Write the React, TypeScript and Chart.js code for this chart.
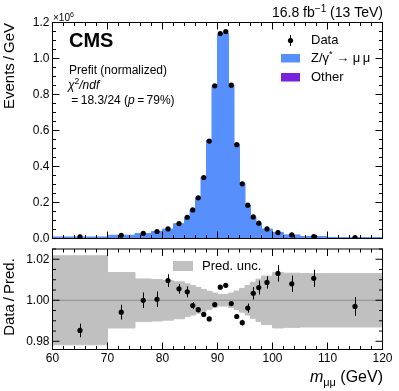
import React, { useEffect, useRef } from "react";
import { Chart, registerables } from "chart.js";

Chart.register(...registerables);

// ---------------- data ----------------
const binEdges = [60, 70, 75, 78, 80, 82, 84, 85, 86, 87, 88, 89, 90, 91, 92, 93, 94, 95, 96, 97, 98, 100, 102, 105, 110, 120];
const binCenters = [65, 72.5, 76.5, 79, 81, 83, 84.5, 85.5, 86.5, 87.5, 88.5, 89.5, 90.5, 91.5, 92.5, 93.5, 94.5, 95.5, 96.5, 97.5, 99, 101, 103.5, 107.5, 115];
// Events / GeV in units of 10^6
const dataValues = [0.0085, 0.018, 0.028, 0.039, 0.053, 0.083, 0.118, 0.159, 0.226, 0.339, 0.541, 0.848, 1.139, 1.15, 0.852, 0.521, 0.304, 0.185, 0.12, 0.085, 0.053, 0.033, 0.02, 0.011, 0.0056];
const zValues = [0.0082, 0.0177, 0.0276, 0.0386, 0.0521, 0.0821, 0.1171, 0.159, 0.2266, 0.341, 0.5456, 0.8494, 1.1313, 1.1413, 0.853, 0.5248, 0.307, 0.1853, 0.1192, 0.0841, 0.0521, 0.0322, 0.0194, 0.0105, 0.0052];
const otherValues = [0.0004, 0.0004, 0.0004, 0.0004, 0.0004, 0.0004, 0.0004, 0.0004, 0.0004, 0.0004, 0.0004, 0.0004, 0.0004, 0.0004, 0.0004, 0.0004, 0.0004, 0.0004, 0.0004, 0.0004, 0.0004, 0.0004, 0.0004, 0.0004, 0.0004];
const ratioValues = [0.9853, 0.9942, 1.0, 1.0005, 1.0096, 1.0056, 1.0041, 0.9974, 0.9954, 0.9931, 0.9909, 0.9979, 1.0064, 1.0073, 0.9984, 0.9921, 0.9891, 0.9962, 1.0034, 1.0062, 1.0087, 1.0131, 1.008, 1.0107, 0.997];
const ratioErrors = [0.0033, 0.0036, 0.0038, 0.0038, 0.0031, 0.0024, 0.0027, 0.0017, 0.0013, 0.0012, 0.0011, 0.001, 0.001, 0.001, 0.001, 0.0012, 0.0014, 0.0022, 0.003, 0.0034, 0.003, 0.004, 0.004, 0.0042, 0.0046];
const uncValues = [0.0217, 0.0135, 0.0104, 0.0101, 0.0097, 0.009, 0.008, 0.0072, 0.0063, 0.0053, 0.0044, 0.0035, 0.0028, 0.0028, 0.0035, 0.0045, 0.0058, 0.0072, 0.0088, 0.0103, 0.0118, 0.0135, 0.0132, 0.013, 0.013];

const xTickLabels = [60, 70, 80, 90, 100, 110, 120];
const yTickLabelsMain = [0, 0.2, 0.4, 0.6, 0.8, 1.0, 1.2];
const yTickLabelsRatio = [0.98, 1.0, 1.02];

// ---------------- style ----------------
const FONT = "'Liberation Sans', Arial, Helvetica, sans-serif";
const BLUE = "#5790fc";
const PURPLE = "#7a21dd";
const GRAY = "#c0c0c0";
const W = 399;
const TOP_H = 245;
const BOT_H = 146;

type Seg = { t: string; size: number; italic?: boolean; bold?: boolean; dy?: number };

function fontOf(s: Seg) {
  return `${s.italic ? "italic " : ""}${s.bold ? "bold " : ""}${s.size}px ${FONT}`;
}

function drawRich(ctx: CanvasRenderingContext2D, segs: Seg[], x: number, y: number, align: "left" | "right" = "left", baseline: CanvasTextBaseline = "alphabetic") {
  ctx.save();
  ctx.fillStyle = "#000";
  ctx.textAlign = "left";
  ctx.textBaseline = baseline;
  const widths = segs.map((s) => {
    ctx.font = fontOf(s);
    return ctx.measureText(s.t).width;
  });
  const total = widths.reduce((a, b) => a + b, 0);
  let cx = align === "right" ? x - total : x;
  segs.forEach((s, i) => {
    ctx.font = fontOf(s);
    ctx.fillText(s.t, cx, y + (s.dy || 0));
    cx += widths[i];
  });
  ctx.restore();
}

function stepPoints(values: number[], offset: number[] | null = null) {
  const pts = binEdges.slice(0, -1).map((e, i) => ({ x: e, y: values[i] + (offset ? offset[i] : 0) }));
  const n = values.length - 1;
  pts.push({ x: binEdges[binEdges.length - 1], y: values[n] + (offset ? offset[n] : 0) });
  return pts;
}

function drawFrameAndTicks(chart: any, yMajor: number[], yMinorStep: number, yMin: number, yMax: number) {
  const ctx: CanvasRenderingContext2D = chart.ctx;
  const { left, right, top, bottom } = chart.chartArea;
  const xs = chart.scales.x;
  const ys = chart.scales.y;
  ctx.save();
  ctx.strokeStyle = "#000";
  ctx.lineWidth = 1;
  ctx.beginPath();
  for (let v = 60; v <= 120.001; v += 2) {
    const px = xs.getPixelForValue(v);
    const len = xTickLabels.includes(Math.round(v)) ? 7 : 3.5;
    ctx.moveTo(px, bottom);
    ctx.lineTo(px, bottom - len);
    ctx.moveTo(px, top);
    ctx.lineTo(px, top + len);
  }
  const nMin = Math.round((yMax - yMin) / yMinorStep);
  const start = Math.ceil(yMin / yMinorStep - 1e-6) * yMinorStep;
  for (let k = 0; k <= nMin + 1; k++) {
    const v = start + k * yMinorStep;
    if (v > yMax + 1e-9) break;
    const py = ys.getPixelForValue(v);
    const isMajor = yMajor.some((m) => Math.abs(m - v) < 1e-6);
    const len = isMajor ? 7 : 3.5;
    ctx.moveTo(left, py);
    ctx.lineTo(left + len, py);
    ctx.moveTo(right, py);
    ctx.lineTo(right - len, py);
  }
  ctx.stroke();
  ctx.strokeRect(left, top, right - left, bottom - top);
  ctx.restore();
}

function drawYLabels(chart: any, labels: number[], digits: number) {
  const ctx: CanvasRenderingContext2D = chart.ctx;
  const ys = chart.scales.y;
  const { left } = chart.chartArea;
  ctx.save();
  ctx.fillStyle = "#000";
  ctx.font = `12px ${FONT}`;
  ctx.textAlign = "right";
  ctx.textBaseline = "middle";
  labels.forEach((v) => {
    ctx.fillText(v.toFixed(digits), left - 3, ys.getPixelForValue(v));
  });
  ctx.restore();
}

function drawRotated(ctx: CanvasRenderingContext2D, text: string, x: number, y: number, align: CanvasTextAlign, size: number) {
  ctx.save();
  ctx.translate(x, y);
  ctx.rotate(-Math.PI / 2);
  ctx.fillStyle = "#000";
  ctx.font = `${size}px ${FONT}`;
  ctx.textAlign = align;
  ctx.textBaseline = "middle";
  ctx.fillText(text, 0, 0);
  ctx.restore();
}

const mainPlugin = {
  id: "mainDecor",
  afterDraw(chart: any) {
    const ctx: CanvasRenderingContext2D = chart.ctx;
    drawFrameAndTicks(chart, yTickLabelsMain, 0.05, 0, 1.2);
    drawYLabels(chart, yTickLabelsMain, 1);
    drawRotated(ctx, "Events\u2009/\u2009GeV", 10, 23, "right", 15);
    drawRich(ctx, [{ t: "\u00d710", size: 10 }, { t: "6", size: 7, dy: -4 }], 53, 21);
    drawRich(ctx, [{ t: "16.8 fb", size: 14 }, { t: "\u22121", size: 10, dy: -5 }, { t: " (13 TeV)", size: 14 }], 383, 17, "right");
    drawRich(ctx, [{ t: "CMS", size: 20, bold: true }], 69, 47);
    drawRich(ctx, [{ t: "Prefit (normalized)", size: 12 }], 69, 74);
    drawRich(ctx, [{ t: "\u03c7", size: 12, italic: true }, { t: "2", size: 8.5, dy: -5 }, { t: "/ndf", size: 12, italic: true }], 68, 89);
    drawRich(ctx, [{ t: " =\u200918.3/24 (", size: 12 }, { t: "p", size: 12, italic: true }, { t: "\u2009=\u200979%)", size: 12 }], 68, 104);
    ctx.save();
    ctx.fillStyle = "#000";
    ctx.strokeStyle = "#000";
    ctx.lineWidth = 1;
    ctx.beginPath();
    ctx.moveTo(290.5, 35);
    ctx.lineTo(290.5, 46);
    ctx.stroke();
    ctx.beginPath();
    ctx.arc(290.5, 40.5, 2.6, 0, Math.PI * 2);
    ctx.fill();
    ctx.fillStyle = BLUE;
    ctx.fillRect(281, 54, 19, 8.5);
    ctx.fillStyle = PURPLE;
    ctx.fillRect(281, 73, 19, 8.5);
    ctx.restore();
    drawRich(ctx, [{ t: "Data", size: 13 }], 311, 40.5, "left", "middle");
    drawRich(ctx, [{ t: "Z/\u03b3", size: 13 }, { t: "*", size: 9, dy: -4 }, { t: " \u2192 \u03bc\u2009\u03bc", size: 13 }], 311, 58.5, "left", "middle");
    drawRich(ctx, [{ t: "Other", size: 13 }], 311, 77.5, "left", "middle");
  },
};

const ratioPlugin = {
  id: "ratioDecor",
  beforeDatasetDraw(chart: any, args: any) {
    if (args.index !== 2) return;
    const ctx: CanvasRenderingContext2D = chart.ctx;
    const xs = chart.scales.x;
    const ys = chart.scales.y;
    const { left, right } = chart.chartArea;
    ctx.save();
    ctx.strokeStyle = "#8c8c8c";
    ctx.lineWidth = 1;
    ctx.beginPath();
    const y1 = ys.getPixelForValue(1.0);
    ctx.moveTo(left, y1);
    ctx.lineTo(right, y1);
    ctx.stroke();
    ctx.strokeStyle = "#000";
    ctx.beginPath();
    binCenters.forEach((c, i) => {
      const px = Math.round(xs.getPixelForValue(c)) + 0.5;
      ctx.moveTo(px, ys.getPixelForValue(ratioValues[i] - ratioErrors[i]));
      ctx.lineTo(px, ys.getPixelForValue(ratioValues[i] + ratioErrors[i]));
    });
    ctx.stroke();
    ctx.restore();
  },
  afterDraw(chart: any) {
    const ctx: CanvasRenderingContext2D = chart.ctx;
    drawFrameAndTicks(chart, yTickLabelsRatio, 0.005, 0.976, 1.025);
    drawYLabels(chart, yTickLabelsRatio, 2);
    drawRotated(ctx, "Data\u2009/\u2009Pred.", 10, 52, "center", 15);
    const xs = chart.scales.x;
    ctx.save();
    ctx.fillStyle = "#000";
    ctx.font = `12px ${FONT}`;
    ctx.textAlign = "center";
    ctx.textBaseline = "middle";
    xTickLabels.forEach((v) => ctx.fillText(String(v), xs.getPixelForValue(v), 114));
    ctx.fillStyle = GRAY;
    ctx.fillRect(173, 16, 20, 10);
    ctx.restore();
    drawRich(ctx, [{ t: "Pred. unc.", size: 13 }], 202, 21, "left", "middle");
    drawRich(ctx, [{ t: "m", size: 16, italic: true }, { t: "\u03bc\u03bc", size: 11, dy: 4 }, { t: " (GeV)", size: 16 }], 383, 137, "right");
  },
};

export default function App() {
  const topRef = useRef<HTMLCanvasElement>(null);
  const botRef = useRef<HTMLCanvasElement>(null);

  useEffect(() => {
    document.body.style.margin = "0";
    const common = {
      animation: false as const,
      responsive: false,
      events: [] as any[],
      plugins: { legend: { display: false }, tooltip: { enabled: false } },
    };

    const top = new Chart(topRef.current as HTMLCanvasElement, {
      type: "line",
      data: {
        datasets: [
          {
            label: "Z/\u03b3* \u2192 \u03bc\u03bc",
            data: stepPoints(zValues, otherValues),
            stepped: true,
            fill: "origin",
            backgroundColor: BLUE,
            borderColor: BLUE,
            borderWidth: 1,
            pointRadius: 0,
            order: 3,
          },
          {
            label: "Other",
            data: stepPoints(otherValues),
            stepped: true,
            fill: "origin",
            backgroundColor: PURPLE,
            borderColor: "rgba(0,0,0,0)",
            borderWidth: 0,
            pointRadius: 0,
            order: 2,
          },
          {
            label: "Data",
            data: binCenters.map((c, i) => ({ x: c, y: dataValues[i] })),
            showLine: false,
            pointRadius: 2.6,
            pointBackgroundColor: "#000",
            pointBorderWidth: 0,
            borderColor: "#000",
            order: 0,
          },
        ],
      },
      options: {
        ...common,
        layout: { padding: { left: 52.5, right: 16.5, top: 22.5, bottom: TOP_H - 238.5 } },
        scales: {
          x: { type: "linear", min: 60, max: 120, display: false },
          y: { type: "linear", min: 0, max: 1.2, display: false },
        },
      } as any,
      plugins: [mainPlugin],
    });

    const bot = new Chart(botRef.current as HTMLCanvasElement, {
      type: "line",
      data: {
        datasets: [
          {
            label: "Pred. unc. up",
            data: stepPoints(uncValues.map((u) => 1 + u)),
            stepped: true,
            fill: { value: 1 },
            backgroundColor: GRAY,
            borderColor: GRAY,
            borderWidth: 1,
            pointRadius: 0,
            order: 3,
          },
          {
            label: "Pred. unc. down",
            data: stepPoints(uncValues.map((u) => 1 - u)),
            stepped: true,
            fill: { value: 1 },
            backgroundColor: GRAY,
            borderColor: GRAY,
            borderWidth: 1,
            pointRadius: 0,
            order: 2,
          },
          {
            label: "Data / Pred.",
            data: binCenters.map((c, i) => ({ x: c, y: ratioValues[i] })),
            showLine: false,
            pointRadius: 2.6,
            pointBackgroundColor: "#000",
            pointBorderWidth: 0,
            borderColor: "#000",
            order: 0,
          },
        ],
      },
      options: {
        ...common,
        layout: { padding: { left: 52.5, right: 16.5, top: 2.5, bottom: BOT_H - 104.5 } },
        scales: {
          x: { type: "linear", min: 60, max: 120, display: false },
          y: { type: "linear", min: 0.976, max: 1.025, display: false },
        },
      } as any,
      plugins: [ratioPlugin],
    });

    return () => {
      top.destroy();
      bot.destroy();
    };
  }, []);

  return (
    <div style={{ position: "relative", width: W, height: TOP_H + BOT_H, background: "#fff" }}>
      <canvas ref={topRef} width={W} height={TOP_H} style={{ position: "absolute", left: 0, top: 0, width: W, height: TOP_H }} />
      <canvas ref={botRef} width={W} height={BOT_H} style={{ position: "absolute", left: 0, top: TOP_H, width: W, height: BOT_H }} />
    </div>
  );
}
